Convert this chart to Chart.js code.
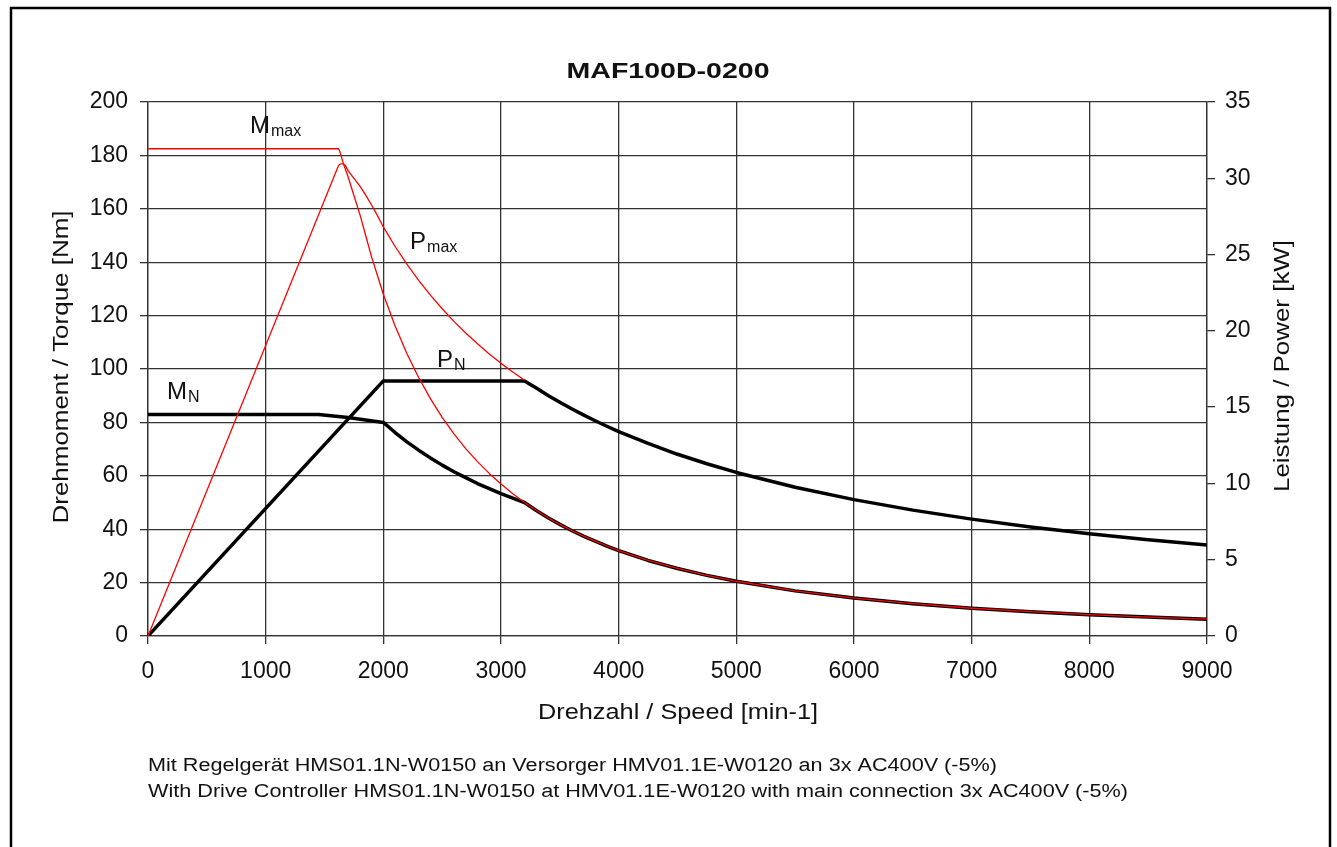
<!DOCTYPE html>
<html>
<head>
<meta charset="utf-8">
<script src="https://cdn.jsdelivr.net/npm/chart.js@4.4.1/dist/chart.umd.min.js"></script>
<style>
  html, body { margin: 0; padding: 0; background: #fff; }
  #wrap { width: 1337px; height: 847px; }
</style>
</head>
<body>
<div id="wrap"><canvas id="myChart" width="1337" height="847"></canvas></div>
<script>
// values
const mmaxSpeed = [0, 1620, 1630, 1640, 1660, 1680, 1700, 1750, 1800, 1850, 1900, 1950, 2000, 2100, 2200, 2300, 2400, 2500, 2600, 2700, 2800, 2900, 3000, 3100, 3200, 3300, 3400, 3500, 3600, 3700, 3800, 3900, 4000, 4250, 4500, 4750, 5000, 5500, 6000, 6500, 7000, 7500, 8000, 8500, 9000];
const mmaxTorque = [182.5, 182.5, 181.5, 180, 177, 174.5, 172, 165, 158, 150, 142, 135, 128, 116.1, 105.8, 96.8, 88.9, 81.9, 75.7, 70.2, 65.3, 60.9, 56.9, 53.3, 50, 47, 44.3, 41.8, 39.5, 37.4, 35.5, 33.7, 32, 28.3, 25.3, 22.7, 20.5, 16.9, 14.2, 12.1, 10.4, 9.1, 8.0, 7.1, 6.3];

const mnSpeed = [0, 1450, 1700, 2000, 2100, 2200, 2300, 2400, 2500, 2600, 2700, 2800, 2900, 3000, 3100, 3200, 3300, 3400, 3500, 3600, 3700, 3800, 3900, 4000, 4250, 4500, 4750, 5000, 5500, 6000, 6500, 7000, 7500, 8000, 8500, 9000];
const mnTorque = [83, 83, 81.8, 80, 76.2, 72.7, 69.6, 66.7, 64, 61.5, 59.3, 57.1, 55.2, 53.3, 51.6, 50, 47, 44.3, 41.8, 39.5, 37.4, 35.5, 33.7, 32, 28.3, 25.3, 22.7, 20.5, 16.9, 14.2, 12.1, 10.4, 9.1, 8.0, 7.1, 6.3];

const pmaxSpeed = [0, 1620, 1640, 1660, 1680, 1700, 1750, 1800, 1850, 1900, 1950, 2000, 2100, 2200, 2300, 2400, 2500, 2600, 2700, 2800, 2900, 3000, 3100, 3200];
const pmaxPower = [0, 30.85, 30.95, 30.95, 30.8, 30.5, 30.0, 29.5, 28.9, 28.25, 27.55, 26.81, 25.53, 24.37, 23.31, 22.34, 21.45, 20.62, 19.86, 19.15, 18.49, 17.87, 17.3, 16.76];

const pnSpeed = [0, 2000, 3200, 3300, 3400, 3500, 3600, 3700, 3800, 3900, 4000, 4250, 4500, 4750, 5000, 5500, 6000, 6500, 7000, 7500, 8000, 8500, 9000];
const pnPower = [0, 16.72, 16.72, 16.25, 15.77, 15.32, 14.89, 14.49, 14.11, 13.75, 13.4, 12.62, 11.91, 11.29, 10.72, 9.75, 8.94, 8.25, 7.66, 7.15, 6.7, 6.31, 5.96];

// axis ranges / ticks
const speedTicks = [0, 9000, 1000];
const torqueTicks = [0, 200, 20];
const powerTicks = [0, 35, 5];

// curve names, placed at [speed, torque]
const curveLabels = [
  ["M", "max", 867, 188.4],
  ["P", "max", 2227, 145],
  ["P", "N", 2456, 100.7],
  ["M", "N", 161, 88.8],
];

const chartTitle = "MAF100D-0200";
const xTitle = "Drehzahl / Speed [min-1]";
const yTitle = "Drehmoment / Torque [Nm]";
const y1Title = "Leistung / Power [kW]";
const notes = [
  "Mit Regelgerät HMS01.1N-W0150 an Versorger HMV01.1E-W0120 an 3x AC400V (-5%)",
  "With Drive Controller HMS01.1N-W0150 at HMV01.1E-W0120 with main connection 3x AC400V (-5%)",
];

function toPoints(xs, ys) {
  return xs.map((x, i) => ({ x: x, y: ys[i] }));
}

const FONT = "'Liberation Sans', Arial, Helvetica, sans-serif";

// text squeezed/stretched to a given width
function fitText(c, text, x, y, font, width, align, angle) {
  c.save();
  c.font = font;
  const w = c.measureText(text).width;
  c.translate(x, y);
  if (angle) c.rotate(angle);
  c.scale(width / w, 1);
  c.textAlign = align;
  c.fillText(text, 0, 0);
  c.restore();
}

const sheetTexts = {
  id: "sheetTexts",
  afterDraw(chart) {
    const c = chart.ctx;
    const sx = chart.scales.x, sy = chart.scales.y;
    c.save();
    c.fillStyle = "#111";
    c.textBaseline = "alphabetic";

    fitText(c, chartTitle, 668, 78, "bold 22px " + FONT, 203, "center");
    fitText(c, xTitle, 678, 719, "22px " + FONT, 280, "center");
    c.textBaseline = "middle";
    fitText(c, yTitle, 62, 367, "22px " + FONT, 313, "center", -Math.PI / 2);
    fitText(c, y1Title, 1283, 366, "22px " + FONT, 252, "center", -Math.PI / 2);
    c.textBaseline = "alphabetic";

    fitText(c, notes[0], 148, 771, "18px " + FONT, 849, "left");
    fitText(c, notes[1], 148, 797, "18px " + FONT, 980, "left");

    // curve names with subscripts
    curveLabels.forEach(function (l) {
      const px = sx.getPixelForValue(l[2]);
      const py = sy.getPixelForValue(l[3]);
      c.font = "24px " + FONT;
      c.textAlign = "left";
      c.fillText(l[0], px, py);
      const w = c.measureText(l[0]).width;
      c.font = "16px " + FONT;
      c.fillText(l[1], px + w + 1, py + 3);
    });

    // frame round the sheet
    c.strokeStyle = "#000";
    c.lineWidth = 2.5;
    c.strokeRect(11, 8, 1319, 900);
    c.restore();
  },
};

const gridColor = "#333";
const tickFont = { family: FONT, size: 23 };

const ctx = document.getElementById("myChart").getContext("2d");

const graphData = {
  type: "line",
  data: {
    datasets: [
      {
        label: "Mmax",
        data: toPoints(mmaxSpeed, mmaxTorque),
        borderColor: "#ff0000",
        borderWidth: 1.3,
        yAxisID: "y",
      },
      {
        label: "Pmax",
        data: toPoints(pmaxSpeed, pmaxPower),
        borderColor: "#ff0000",
        borderWidth: 1.3,
        yAxisID: "y1",
      },
      {
        label: "MN",
        data: toPoints(mnSpeed, mnTorque),
        borderColor: "#000",
        borderWidth: 3.5,
        yAxisID: "y",
      },
      {
        label: "PN",
        data: toPoints(pnSpeed, pnPower),
        borderColor: "#000",
        borderWidth: 3.5,
        yAxisID: "y1",
      },
    ],
  },
  options: {
    responsive: false,
    animation: false,
    parsing: false,
    elements: { point: { radius: 0 }, line: { tension: 0, fill: false, borderJoinStyle: "round" } },
    layout: { padding: { top: 102, left: 0, right: 0, bottom: 0 } },
    plugins: { legend: { display: false }, tooltip: { enabled: false } },
    scales: {
      x: {
        type: "linear",
        min: speedTicks[0],
        max: speedTicks[1],
        afterFit: function (s) { s.height = 211; },
        ticks: {
          stepSize: speedTicks[2],
          color: "#111",
          font: tickFont,
          padding: 14,
          maxRotation: 0,
          callback: function (v) { return String(v); },
        },
        grid: { color: gridColor, lineWidth: 1.3, tickLength: 8 },
        border: { color: gridColor, width: 1.3 },
      },
      y: {
        position: "left",
        min: torqueTicks[0],
        max: torqueTicks[1],
        afterFit: function (s) { s.width = 148; },
        ticks: { stepSize: torqueTicks[2], color: "#111", font: tickFont, padding: 12 },
        grid: { color: gridColor, lineWidth: 1.3, tickLength: 8 },
        border: { color: gridColor, width: 1.3 },
      },
      y1: {
        position: "right",
        min: powerTicks[0],
        max: powerTicks[1],
        afterFit: function (s) { s.width = 130; },
        ticks: { stepSize: powerTicks[2], color: "#111", font: tickFont, padding: 10 },
        grid: { drawOnChartArea: false, color: gridColor, lineWidth: 1.3, tickLength: 8 },
        border: { color: gridColor, width: 1.3 },
      },
    },
  },
  plugins: [sheetTexts],
};
const myChart = new Chart(ctx, graphData);
</script>
</body>
</html>
